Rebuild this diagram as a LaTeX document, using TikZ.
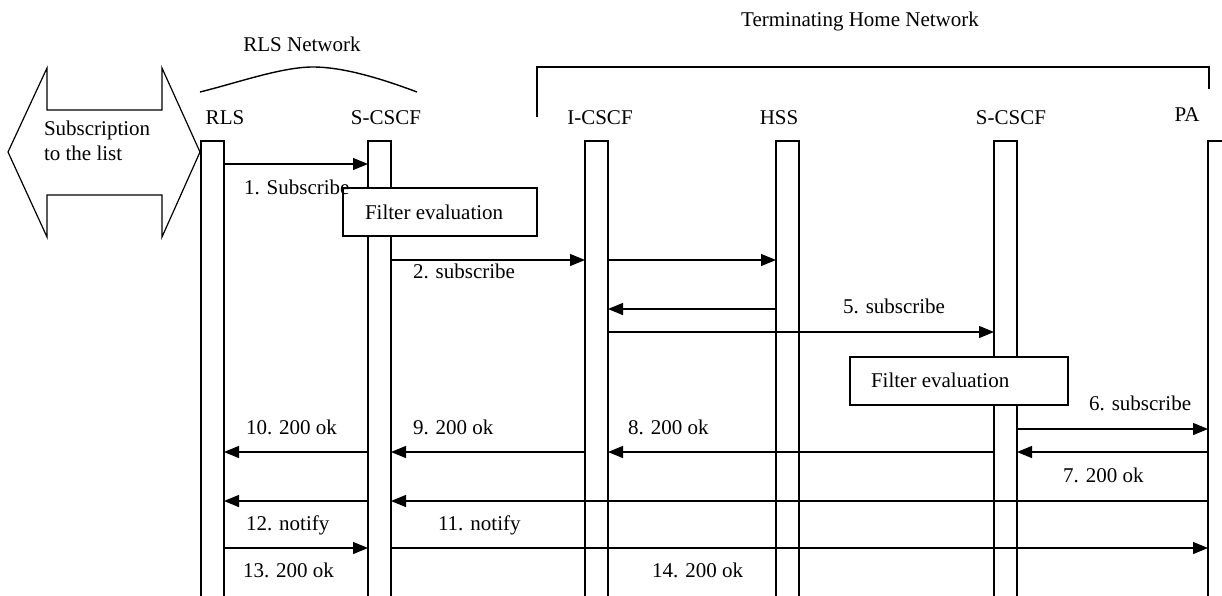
\documentclass[tikz,border=0pt]{standalone}
\usepackage{fontspec}
\setmainfont{Liberation Serif}
\usetikzlibrary{arrows.meta}
\begin{document}
\begin{tikzpicture}[x=1pt,y=-1pt,
  every node/.style={font=\fontsize{21}{25}\selectfont, inner sep=0pt, outer sep=0pt},
  lbl/.style={anchor=base west},
  ctr/.style={anchor=base},
  lifeline/.style={draw, line width=1.2pt, minimum width=23pt, minimum height=500pt, anchor=north west},
  msg/.style={line width=1.2pt, -{Triangle[length=15pt,width=12pt]}},
  fbox/.style={draw, fill=white, line width=1.2pt, anchor=north west},
  plain/.style={line width=1.2pt}]
\useasboundingbox (0,0) rectangle (1222,595);
\clip (0,0) rectangle (1222,595);

% titles
\node[ctr] (tthn) at (860,26) {Terminating Home Network};
\node[ctr] (trls) at (302,51) {RLS Network};
\draw[line width=1.4pt] (200,92) .. controls (240,82) and (282,67) .. (313,67)
   .. controls (345,67) and (385,80) .. (417,92);
\draw[plain] (537,117) -- (537,67) -- (1209,67) -- (1209,89);

% double arrow
\draw[plain] (8,152) -- (47,68) -- (47,110) -- (162,110) -- (162,68) -- (200,152)
  -- (162,237) -- (162,195) -- (47,195) -- (47,237) -- cycle;
\node[lbl, align=left] (subs) at (44,160) {Subscription\\to the list};

% entity labels
\node[ctr] (lrls) at (225,124) {RLS};
\node[ctr] (lsa) at (386,124) {S-CSCF};
\node[ctr] (lic) at (600,124) {I-CSCF};
\node[ctr] (lhss) at (779,124) {HSS};
\node[ctr] (lsb) at (1011,124) {S-CSCF};
\node[ctr] (lpa) at (1187,121) {PA};

% lifelines
\node[lifeline] (rls) at (201,141) {};
\node[lifeline] (sa) at (368,141) {};
\node[lifeline] (ic) at (585,141) {};
\node[lifeline] (hss) at (776,141) {};
\node[lifeline] (sb) at (994,141) {};
\node[lifeline] (pa) at (1208,141) {};

% filter boxes
\node[fbox, minimum width=194pt, minimum height=48pt] (f1) at (343,188) {};
\node[lbl] (f1t) at (365,219) {Filter evaluation};
\node[fbox, minimum width=218pt, minimum height=48pt] (f2) at (850,357) {};
\node[lbl] (f2t) at (871,387) {Filter evaluation};

% messages
\draw[msg] (rls.east |- 0,164) -- (sa.west |- 0,164);
\node[lbl] (m1) at (244,194) {1. Subscribe};

\draw[msg] (sa.east |- 0,260) -- (ic.west |- 0,260);
\node[lbl] (m2) at (413,278) {2. subscribe};
\draw[msg] (ic.east |- 0,260) -- (hss.west |- 0,260);
\draw[msg] (hss.west |- 0,309) -- (ic.east |- 0,309);
\draw[msg] (ic.east |- 0,332) -- (sb.west |- 0,332);
\node[lbl] (m5) at (843,313) {5. subscribe};

\draw[msg] (sb.east |- 0,429) -- (pa.west |- 0,429);
\node[lbl] (m6) at (1089,410) {6. subscribe};
\draw[msg] (pa.west |- 0,452) -- (sb.east |- 0,452);
\node[lbl] (m7) at (1063,482) {7. 200 ok};
\draw[msg] (sb.west |- 0,452) -- (ic.east |- 0,452);
\node[lbl] (m8) at (628,434) {8. 200 ok};
\draw[msg] (ic.west |- 0,452) -- (sa.east |- 0,452);
\node[lbl] (m9) at (413,434) {9. 200 ok};
\draw[msg] (sa.west |- 0,452) -- (rls.east |- 0,452);
\node[lbl] (m10) at (246,434) {10. 200 ok};

\draw[msg] (pa.west |- 0,501) -- (sa.east |- 0,501);
\draw[msg] (sa.west |- 0,501) -- (rls.east |- 0,501);
\node[lbl] (m12) at (246,530) {12. notify};
\node[lbl] (m11) at (438,530) {11. notify};
\draw[msg] (rls.east |- 0,548) -- (sa.west |- 0,548);
\draw[msg] (sa.east |- 0,548) -- (pa.west |- 0,548);
\node[lbl] (m13) at (243,577) {13. 200 ok};
\node[lbl] (m14) at (652,577) {14. 200 ok};
\end{tikzpicture}
\end{document}
